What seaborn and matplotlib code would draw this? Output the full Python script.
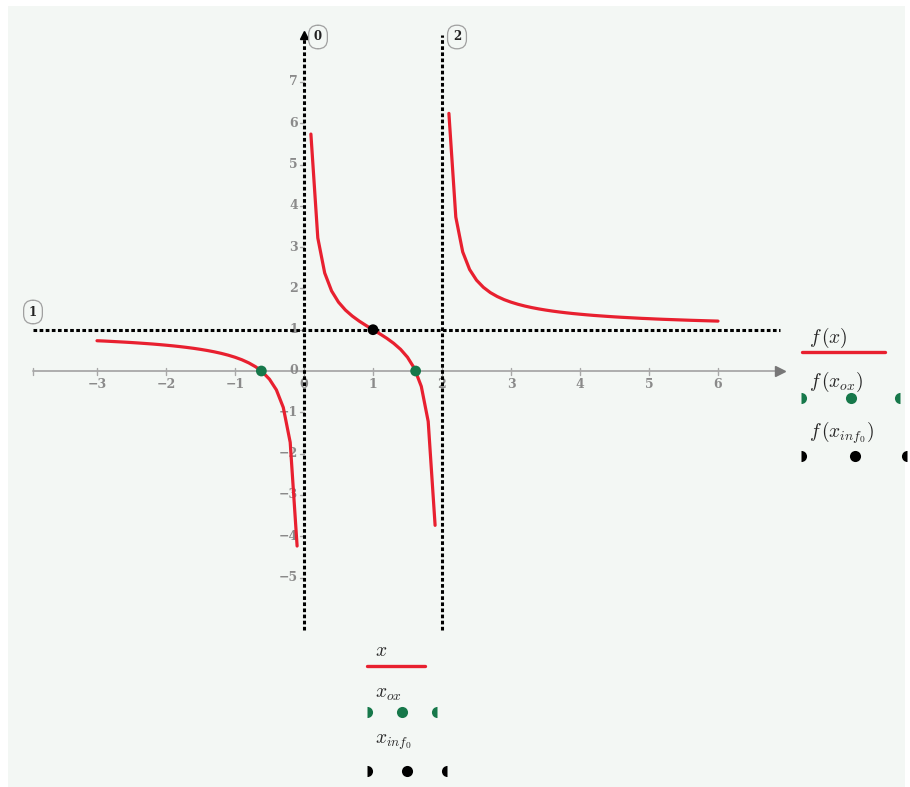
import matplotlib
matplotlib.use('Agg')
import matplotlib.pyplot as plt
from matplotlib.patches import Rectangle
import seaborn as sns

# f(x), three branches split by the vertical asymptotes
x_left = [-3.0, -2.9, -2.8, -2.7, -2.6, -2.5, -2.4, -2.3, -2.2, -2.1, -2.0,
          -1.9, -1.8, -1.7, -1.6, -1.5, -1.4, -1.3, -1.2, -1.1, -1.0,
          -0.9, -0.8, -0.7, -0.6, -0.5, -0.4, -0.3, -0.2, -0.1]
f_left = [0.733, 0.726, 0.717, 0.708, 0.699, 0.689, 0.678, 0.666, 0.654, 0.640, 0.625,
          0.609, 0.591, 0.571, 0.549, 0.524, 0.496, 0.464, 0.427, 0.384, 0.333,
          0.272, 0.196, 0.101, -0.026, -0.200, -0.458, -0.884, -1.727, -4.238]

x_mid = [0.1, 0.2, 0.3, 0.4, 0.5, 0.6, 0.7, 0.8, 0.9, 1.0,
         1.1, 1.2, 1.3, 1.4, 1.5, 1.6, 1.7, 1.8, 1.9]
f_mid = [5.737, 3.222, 2.373, 1.938, 1.667, 1.476, 1.330, 1.208, 1.101, 1.000,
         0.899, 0.792, 0.670, 0.524, 0.333, 0.063, -0.373, -1.222, -3.737]

x_right = [2.1, 2.2, 2.3, 2.4, 2.5, 2.6, 2.7, 2.8, 2.9, 3.0,
           3.1, 3.2, 3.3, 3.4, 3.5, 3.6, 3.7, 3.8, 3.9, 4.0,
           4.1, 4.2, 4.3, 4.4, 4.5, 4.6, 4.7, 4.8, 4.9, 5.0,
           5.1, 5.2, 5.3, 5.4, 5.5, 5.6, 5.7, 5.8, 5.9, 6.0]
f_right = [6.238, 3.727, 2.884, 2.458, 2.200, 2.026, 1.899, 1.804, 1.728, 1.667,
           1.616, 1.573, 1.536, 1.504, 1.476, 1.451, 1.429, 1.409, 1.391, 1.375,
           1.360, 1.346, 1.334, 1.322, 1.311, 1.301, 1.292, 1.283, 1.274, 1.267,
           1.259, 1.252, 1.246, 1.240, 1.234, 1.228, 1.223, 1.218, 1.213, 1.208]

x_ox = [-0.618, 1.618]
f_ox = [0.0, 0.0]
x_inf0 = [1.0]
f_inf0 = [1.0]

asym_x = [0, 2]
asym_y = [1]
x_ticks = [-3, -2, -1, 0, 1, 2, 3, 4, 5, 6]
y_ticks = [-5, -4, -3, -2, -1, 0, 1, 2, 3, 4, 5, 6, 7]

RED = '#e8202f'
GREEN = '#16784a'
GRAY = '#8a8a8a'

sns.set_style('white')
plt.rcParams['font.family'] = ['DejaVu Serif']
plt.rcParams['mathtext.fontset'] = 'cm'

W, H = 910, 787
fig = plt.figure(figsize=(9.1, 7.87), dpi=100)
ax = fig.add_axes([0, 0, 1, 1])

# pixel -> data mapping (origin at px 304, 371)
X0, Y0, SX, SY = 304, 371, 69.0, 41.3
def px(u, v):
    return (u - X0) / SX, (Y0 - v) / SY

ax.set_xlim(px(0, 0)[0], px(W, 0)[0])
ax.set_ylim(px(0, H)[1], px(0, 0)[1])
ax.axis('off')
fig.patch.set_facecolor('white')

a, b = px(8, 787), px(905, 6)
ax.add_patch(Rectangle(a, b[0] - a[0], b[1] - a[1], facecolor='#f3f7f4',
                       edgecolor='none', zorder=0))

# x axis
xa, xb = px(33, 371)[0], px(780, 371)[0]
ax.plot([xa, xb], [0, 0], color='#a8a8a8', lw=1.3, zorder=1)
ax.plot([xb], [0], marker='>', color='#777777', markersize=7, zorder=1)
tick_h = 3.5 / SY
for t in x_ticks + [xa]:
    ax.plot([t, t], [-tick_h, tick_h], color='#a8a8a8', lw=1, zorder=1)
for t in x_ticks:
    ax.text(t, -14 / SY, str(t).replace('-', '\u2212'), ha='center', va='center',
            fontsize=9, color=GRAY, fontweight='bold', zorder=1)

# y axis ticks / labels
tick_w = 4 / SX
for t in y_ticks:
    ax.plot([-tick_w, 0], [t, t], color='#a8a8a8', lw=1, zorder=1)
    ax.text(-6 / SX, t, str(t).replace('-', '\u2212'), ha='right', va='center',
            fontsize=9, color=GRAY, fontweight='bold', zorder=1)
ax.plot([0], [px(0, 35)[1]], marker='^', color='black', markersize=6, zorder=4)

# asymptotes
ya, yb = px(0, 630)[1], px(0, 35)[1]
for v in asym_x:
    ax.plot([v, v], [ya, yb], color='black', lw=2.2, ls=(0, (1.2, 0.8)), zorder=3)
for h in asym_y:
    ax.plot([xa, xb], [h, h], color='black', lw=2.2, ls=(0, (1.2, 0.8)), zorder=3)

box = dict(boxstyle='round,pad=0.45,rounding_size=0.8', fc='none', ec='#a0a0a0', lw=0.9)
for lab, (u, v) in [('0', (318, 37)), ('2', (457, 37)), ('1', (33, 312))]:
    ax.text(*px(u, v), lab, ha='center', va='center', fontsize=8.5,
            fontweight='bold', color='#222222', bbox=box, zorder=4)

# curves and points
for xs, ys in [(x_left, f_left), (x_mid, f_mid), (x_right, f_right)]:
    sns.lineplot(x=xs, y=ys, ax=ax, color=RED, lw=2.3, sort=False,
                 estimator=None, zorder=5)
sns.scatterplot(x=x_ox, y=f_ox, ax=ax, color=GREEN, s=60, edgecolor='none', zorder=6)
sns.scatterplot(x=x_inf0, y=f_inf0, ax=ax, color='black', s=60, edgecolor='none', zorder=6)

# legend (right: y-traces)
def half_dots(row, color):
    for (u, v), fs in row:
        ax.plot(*px(u, v), marker='o', fillstyle=fs, markeredgewidth=0,
                markersize=8, color=color, markerfacecoloralt='none', zorder=6)

ax.text(*px(809, 338), r'$f\,(x)$', fontsize=14, va='center', ha='left')
l0, l1 = px(802, 352), px(885, 352)
ax.plot([l0[0], l1[0]], [l0[1], l1[1]], color=RED, lw=2.4)
ax.text(*px(809, 382), r'$f\,(x_{ox})$', fontsize=14, va='center', ha='left')
half_dots([((801, 398), 'right'), ((851, 398), 'full'), ((900, 398), 'left')], GREEN)
ax.text(*px(809, 433), r'$f\,(x_{inf_0})$', fontsize=14, va='center', ha='left')
half_dots([((801, 456), 'right'), ((855, 456), 'full'), ((907, 456), 'left')], 'black')

# legend (bottom: x-traces)
ax.text(*px(375, 651), r'$x$', fontsize=14, va='center', ha='left')
l0, l1 = px(367, 666), px(425, 666)
ax.plot([l0[0], l1[0]], [l0[1], l1[1]], color=RED, lw=2.4)
ax.text(*px(375, 694), r'$x_{ox}$', fontsize=14, va='center', ha='left')
half_dots([((367, 712), 'right'), ((402, 712), 'full'), ((437, 712), 'left')], GREEN)
ax.text(*px(375, 742), r'$x_{inf_0}$', fontsize=14, va='center', ha='left')
half_dots([((367, 771), 'right'), ((407, 771), 'full'), ((447, 771), 'left')], 'black')

fig.savefig('out.png', dpi=100, facecolor='white')
